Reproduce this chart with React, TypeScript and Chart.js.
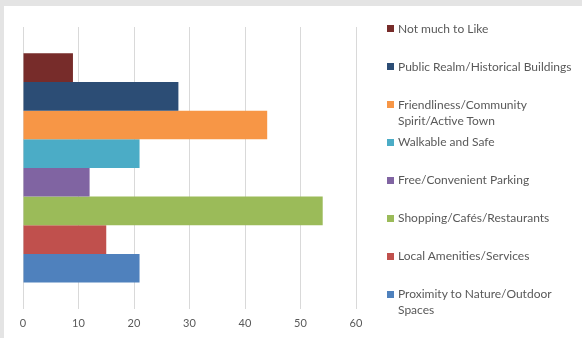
import React, { useEffect, useRef } from "react";
import { Chart, registerables } from "chart.js";

Chart.register(...registerables);

const categories = [
  "Not much to Like",
  "Public Realm/Historical Buildings",
  "Friendliness/Community Spirit/Active Town",
  "Walkable and Safe",
  "Free/Convenient Parking",
  "Shopping/Cafés/Restaurants",
  "Local Amenities/Services",
  "Proximity to Nature/Outdoor Spaces",
];

const values = [9, 28, 44, 21, 12, 54, 15, 21];

const colors = [
  "#772C2A",
  "#2C4D75",
  "#F79646",
  "#4BACC6",
  "#8064A2",
  "#9BBB59",
  "#C0504D",
  "#4F81BD",
];

const xTicks = [0, 10, 20, 30, 40, 50, 60];

const legendLines = [
  ["Not much to Like"],
  ["Public Realm/Historical Buildings"],
  ["Friendliness/Community", "Spirit/Active Town"],
  ["Walkable and Safe"],
  ["Free/Convenient Parking"],
  ["Shopping/Cafés/Restaurants"],
  ["Local Amenities/Services"],
  ["Proximity to Nature/Outdoor", "Spaces"],
];

const FONT = "Lato, 'Open Sans', sans-serif";

export default function App() {
  const ref = useRef<HTMLCanvasElement>(null);

  useEffect(() => {
    document.body.style.margin = "0";
    const chart = new Chart(ref.current as HTMLCanvasElement, {
      type: "bar",
      data: {
        labels: [""],
        datasets: categories.map((c, i) => ({
          label: c,
          data: [values[i]],
          backgroundColor: colors[i],
          borderWidth: 0,
          categoryPercentage: 0.813,
          barPercentage: 1,
        })),
      },
      options: {
        indexAxis: "y",
        animation: false,
        responsive: false,
        layout: { padding: { left: 23, top: 27, right: 226, bottom: 0 } },
        plugins: {
          legend: { display: false },
          tooltip: { enabled: false },
        },
        scales: {
          x: {
            min: 0,
            max: 60,
            afterBuildTicks: (axis: any) => {
              axis.ticks = xTicks.map((v) => ({ value: v }));
            },
            ticks: {
              color: "#595959",
              font: { family: FONT, size: 11, lineHeight: 1.1 },
              padding: 8.5,
            },
            grid: { color: "#d9d9d9", drawTicks: false },
            border: { display: false },
          },
          y: { display: false },
        },
      },
    } as any);
    return () => chart.destroy();
  }, []);

  const slotTop = 28.7;
  const slotGap = 37.9;

  return (
    <div style={{ position: "relative", width: 582, height: 338, background: "#e4e4e4", overflow: "hidden" }}>
      <div style={{ position: "absolute", left: 4, top: 6, right: 0, bottom: 0, background: "#ffffff" }} />
      <canvas ref={ref} width={582} height={338} style={{ position: "absolute", left: 0, top: 0, display: "block" }} />
      {legendLines.map((lines, i) => (
        <div
          key={i}
          style={{
            position: "absolute",
            left: 387,
            top: slotTop + i * slotGap - 8,
            fontFamily: FONT,
            fontSize: 12,
            lineHeight: "16px",
            color: "#595959",
            whiteSpace: "nowrap",
          }}
        >
          <span
            style={{
              position: "absolute",
              left: 0,
              top: 4.5,
              width: 7,
              height: 7,
              background: colors[i],
            }}
          />
          <div style={{ marginLeft: 11 }}>
            {lines.map((l, j) => (
              <div key={j}>{l}</div>
            ))}
          </div>
        </div>
      ))}
    </div>
  );
}
